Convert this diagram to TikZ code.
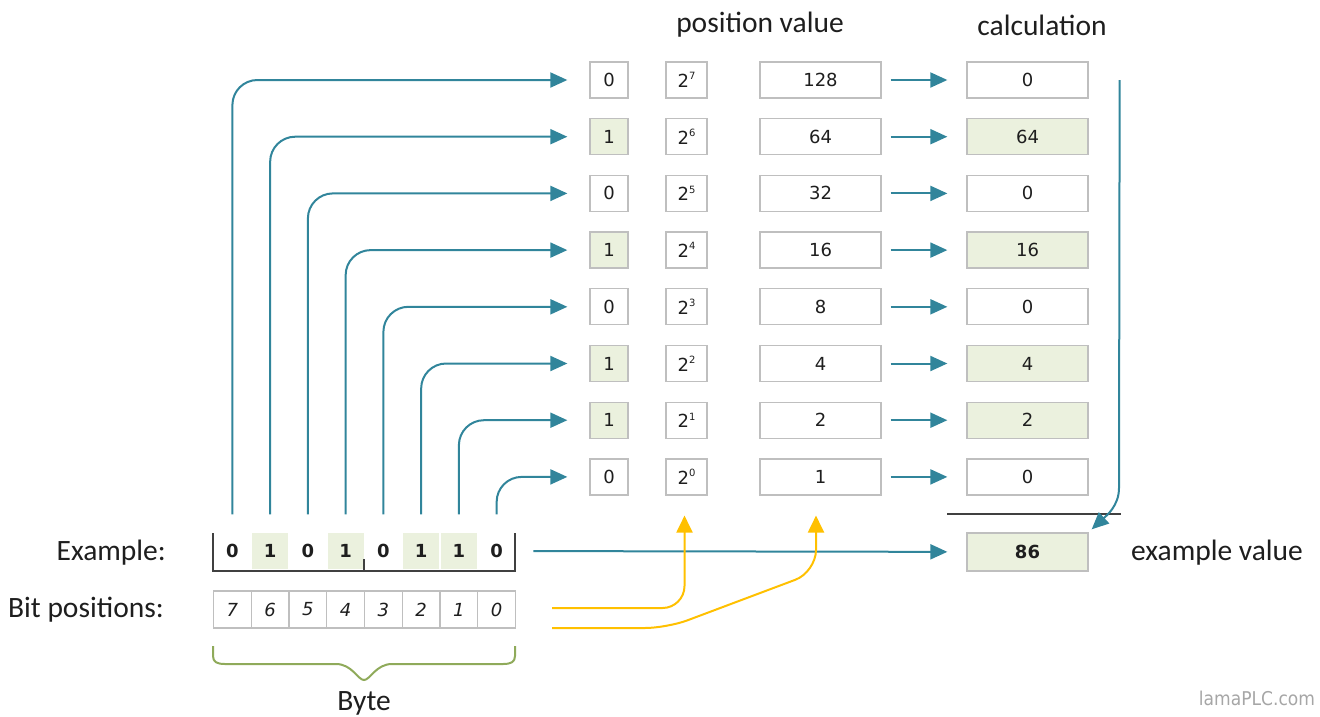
\documentclass[tikz,border=0pt]{standalone}
\usepackage{fontspec}
\setmainfont{Carlito}
\newfontfamily\boxfont{DejaVu Sans}
\newfontfamily\logofont{DejaVu Sans Condensed}
\usetikzlibrary{arrows.meta}
\definecolor{boxgray}{RGB}{191,191,191}
\definecolor{lightgreen}{RGB}{235,241,222}
\definecolor{lineblue}{RGB}{49,133,155}
\definecolor{gold}{RGB}{255,192,0}
\definecolor{darktext}{RGB}{30,30,30}
\definecolor{darkline}{RGB}{64,64,64}
\definecolor{bracegreen}{RGB}{143,170,90}
\definecolor{logogray}{RGB}{166,166,166}
\newcommand\pw[1]{2\raisebox{0.42em}{\fontsize{10}{10}\selectfont #1}}
\begin{document}
\begin{tikzpicture}[x=1pt,y=-1pt,
  cell/.style={draw=boxgray, line width=1.3pt, minimum height=36pt, inner sep=0pt, text=darktext,
    font={\boxfont\fontsize{18}{18}\selectfont}},
  bit0/.style={fill=white},
  bit1/.style={fill=lightgreen},
  conn/.style={draw=lineblue, line width=2pt, -{Triangle[length=17pt,width=15pt]}},
  yconn/.style={draw=gold, line width=2pt, -{Triangle[length=17pt,width=16pt]}, rounded corners=22pt},
  lbl/.style={font={\fontsize{29.5}{31}\selectfont}, text=darktext, inner sep=0pt}]
\useasboundingbox (0,0) rectangle (1320,716);

% headers
\node[lbl] (hpos) at (760,25) {position value};
\node[lbl] (hcalc) at (1042,25) {calculation};

% table rows
\foreach \i/\b/\v/\c in {0/0/128/0, 1/1/64/64, 2/0/32/0, 3/1/16/16, 4/0/8/0, 5/1/4/4, 6/1/2/2, 7/0/1/0} {
  \pgfmathsetmacro\yy{80+56.7*\i}
  \pgfmathtruncatemacro\e{7-\i}
  \node[cell, bit\b, minimum width=38pt] (b\i) at (609,\yy) {\b};
  \node[cell, minimum width=41pt] (w\i) at (686.5,\yy) {\pw{\e}};
  \node[cell, minimum width=121pt] (v\i) at (820.5,\yy) {\v};
  \node[cell, bit\b, minimum width=121pt] (c\i) at (1027.5,\yy) {\c};
  \draw[conn, shorten <=9pt, shorten >=19pt] (v\i) -- (c\i);
}

% example row
\node[lbl, anchor=east] (lex) at (166,553) {Example:};
\node[lbl, anchor=east] (lbp) at (164,610) {Bit positions:};
\foreach \k/\b in {0/0, 1/1, 2/0, 3/1, 4/0, 5/1, 6/1, 7/0} {
  \pgfmathsetmacro\xx{232.4+37.75*\k}
  \pgfmathtruncatemacro\e{7-\k}
  \node[cell, draw=none, bit\b, minimum width=36pt, font={\boxfont\bfseries\fontsize{18}{18}\selectfont}] (x\e) at (\xx,551) {\b};
  \node[cell, minimum width=37.75pt, minimum height=37pt, font={\boxfont\itshape\fontsize{18}{18}\selectfont}] (p\e) at (\xx,609.5) {\e};
  \draw[conn, rounded corners=25pt] ([yshift=18pt]x\e.north) |- ([xshift=-22pt]b\k.west);
}
\draw[darkline, line width=2pt] (213,533) -- (213,571) -- (515,571) -- (515,533);
\draw[darkline, line width=2pt] (364,559) -- (364,571);

% brace
\draw[bracegreen, line width=2pt] (213,646) -- (213,656) .. controls (213,662) and (217,664) .. (225,664)
  -- (336,664) .. controls (352,664) and (358,680) .. (364,680)
  .. controls (370,680) and (376,664) .. (392,664) -- (503,664)
  .. controls (511,664) and (515,662) .. (515,656) -- (515,646);
\node[lbl] (lbyte) at (364,703) {Byte};

% sum
\node[cell, bit1, minimum width=121pt, minimum height=38pt, font={\boxfont\bfseries\fontsize{18}{18}\selectfont}] (sum) at (1027.5,552) {86};
\draw[conn, shorten <=18pt, shorten >=19pt] (x0) -- (sum);
\draw[darkline, line width=2pt] ([xshift=-19pt,yshift=18pt]sum.north west) -- ([xshift=32pt,yshift=18pt]sum.north east);
\draw[conn] ([xshift=31pt]c0.east) -- (1119,488) .. controls (1119,506) and (1106,516) .. ([xshift=3pt,yshift=3pt]sum.north east);
\node[lbl] (lev) at (1217,553) {example value};

% yellow arrows
\coordinate (ya) at (552,608);
\coordinate (yb) at (552,628);
\draw[yconn] (ya) -| ([xshift=-2pt,yshift=-20pt]w7.south);
\draw[yconn] (yb) -- (667,628) -- (816,572) -- ([xshift=-4.5pt,yshift=-20pt]v7.south);

% logo
\node[font={\logofont\fontsize{19}{19}\selectfont}, text=logogray] (logo) at (1257,698) {lamaPLC.com};
\end{tikzpicture}
\end{document}
